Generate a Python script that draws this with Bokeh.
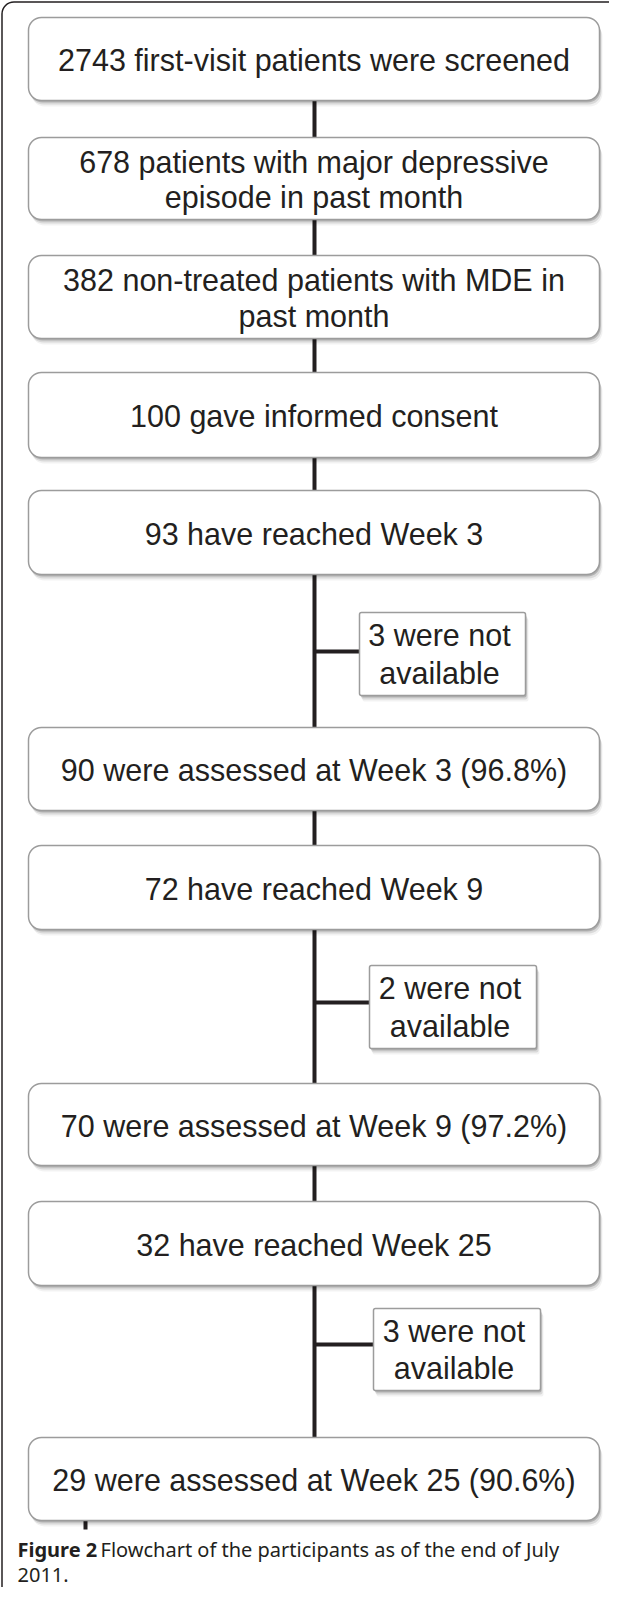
from bokeh.plotting import figure
from bokeh.models import Range1d
from bokeh.core.properties import value
from bokeh.embed import file_html
from bokeh.resources import INLINE

# ---- content ----
main_labels = [
    "2743 first-visit patients were screened",
    "678 patients with major depressive\nepisode in past month",
    "382 non-treated patients with MDE in\npast month",
    "100 gave informed consent",
    "93 have reached Week 3",
    "90 were assessed at Week 3 (96.8%)",
    "72 have reached Week 9",
    "70 were assessed at Week 9 (97.2%)",
    "32 have reached Week 25",
    "29 were assessed at Week 25 (90.6%)",
]
side_labels = [
    "3 were not\navailable",
    "2 were not\navailable",
    "3 were not\navailable",
]
caption_bold = "Figure 2"
caption_rest = "Flowchart of the participants as of the end of July"
caption_line2 = "2011."

# ---- layout (page pixel coordinates) ----
W, H = 609, 1587
box_left, box_right = 36, 607
box_top = [25, 145, 263, 380, 498, 735, 853, 1091, 1209, 1445]
box_bottom = [108, 227, 346, 465, 582, 818, 937, 1173, 1293, 1528]
main_x = 322
side_left = [367, 377, 381]
side_right = [533, 544, 548]
side_top = [620, 973, 1316]
side_bottom = [703, 1056, 1398]
side_branch_y = [659, 1010, 1352]

TXT = "#231f20"
p = figure(width=W, height=H, output_backend="svg", toolbar_location=None,
           x_range=Range1d(8, 8 + W), y_range=Range1d(8 + H, 8),
           min_border=0, outline_line_color=None)
p.axis.visible = False
p.grid.visible = False
p.background_fill_color = "white"
p.border_fill_color = "white"

# outer frame (top-left corner visible)
p.quad(left=[9.5], right=[900], top=[9.5], bottom=[2000], fill_color=None,
       line_color=TXT, line_width=1.5, border_radius=12)

# connectors between main boxes
xs, ys = [], []
for i in range(len(box_top) - 1):
    xs.append([main_x, main_x])
    ys.append([box_bottom[i], box_top[i + 1]])
p.multi_line(xs, ys, line_color=TXT, line_width=4)
# side branches
bx, by = [], []
for k in range(len(side_labels)):
    bx.append([main_x, side_left[k]])
    by.append([side_branch_y[k], side_branch_y[k]])
p.multi_line(bx, by, line_color=TXT, line_width=4)
# short stub below last box
p.line([93, 93], [box_bottom[-1], box_bottom[-1] + 9], line_color=TXT, line_width=4)

# shadows
for dx, dy, a in [(1, 2, 0.18), (2, 4, 0.10), (3, 6, 0.05)]:
    p.quad(left=[box_left + dx] * len(box_top), right=[box_right + dx] * len(box_top),
           top=[t + dy for t in box_top], bottom=[b + dy for b in box_bottom],
           fill_color="black", fill_alpha=a, line_color=None, border_radius=13)
    p.quad(left=[l + dx for l in side_left], right=[r + dx for r in side_right],
           top=[t + dy for t in side_top], bottom=[b + dy for b in side_bottom],
           fill_color="black", fill_alpha=a, line_color=None, border_radius=2)

# boxes
p.quad(left=[box_left] * len(box_top), right=[box_right] * len(box_top),
       top=box_top, bottom=box_bottom, fill_color="white",
       line_color="#9c9c9c", line_width=1.5, border_radius=13)
p.quad(left=side_left, right=side_right, top=side_top, bottom=side_bottom,
       fill_color="white", line_color="#9c9c9c", line_width=1.5, border_radius=2)

# texts
p.text(x=[(box_left + box_right) / 2] * len(main_labels),
       y=[(t + b) / 2 + 1 for t, b in zip(box_top, box_bottom)],
       text=main_labels, text_align="center", text_baseline="middle",
       text_font=value("Liberation Sans"), text_font_size="30.5px",
       text_color=TXT, text_line_height=1.05)
p.text(x=[(l + r) / 2 - 3 for l, r in zip(side_left, side_right)],
       y=[(t + b) / 2 for t, b in zip(side_top, side_bottom)],
       text=side_labels, text_align="center", text_baseline="middle",
       text_font=value("Liberation Sans"), text_font_size="30.5px",
       text_color=TXT, text_line_height=1.1)

# caption
cap_font = value("Noto Sans")
p.text(x=[25], y=[1557], text=[caption_bold], text_align="left", text_baseline="alphabetic",
       text_font=cap_font, text_font_style="bold", text_font_size="20px",
       text_color=TXT)
p.text(x=[108], y=[1557], text=[caption_rest], text_align="left", text_baseline="alphabetic",
       text_font=cap_font, text_font_size="20px", text_color=TXT)
p.text(x=[25], y=[1582], text=[caption_line2], text_align="left", text_baseline="alphabetic",
       text_font=cap_font, text_font_size="20px", text_color=TXT)

open("out.html", "w").write(file_html(p, INLINE))
